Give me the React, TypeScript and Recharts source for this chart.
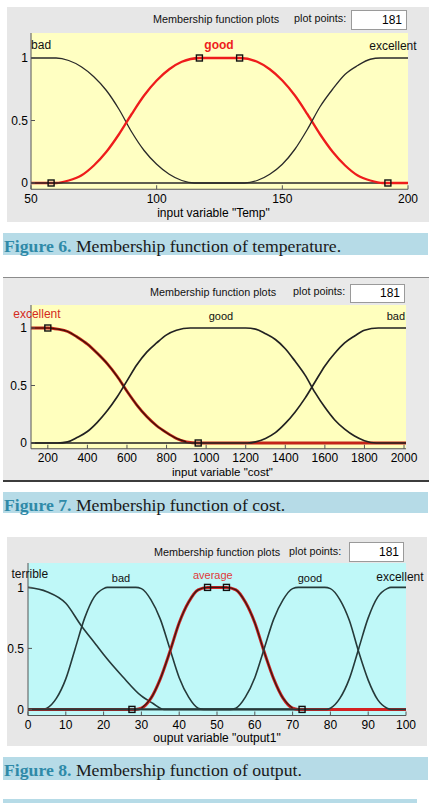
import React from 'react';
import { ComposedChart, Line, Scatter, XAxis, YAxis, CartesianGrid, ReferenceDot } from 'recharts';

// ---------- Figure 6: temperature ----------
const tempTicks = [50, 100, 150, 200];
const tempBadX = [50, 60, 65, 70, 75, 80, 85, 90, 95, 100, 105, 110, 115, 200];
const tempBadY = [1, 1, 0.98, 0.93, 0.85, 0.74, 0.59, 0.41, 0.26, 0.15, 0.07, 0.02, 0, 0];
const tempGoodX = [50, 60, 65, 70, 75, 80, 85, 90, 95, 100, 105, 110, 117, 133, 140, 145, 150, 155, 160, 165, 170, 175, 180, 185, 190, 200];
const tempGoodY = [0, 0, 0.02, 0.06, 0.14, 0.25, 0.39, 0.55, 0.7, 0.82, 0.91, 0.97, 1, 1, 0.97, 0.91, 0.82, 0.7, 0.55, 0.39, 0.25, 0.14, 0.06, 0.02, 0, 0];
const tempExcX = [50, 135, 140, 145, 150, 155, 160, 165, 170, 175, 180, 185, 189, 200];
const tempExcY = [0, 0, 0.02, 0.07, 0.15, 0.27, 0.43, 0.61, 0.75, 0.87, 0.94, 0.99, 1, 1];
const tempMarkX = [58, 117, 133, 192];
const tempMarkY = [0, 1, 1, 0];

// ---------- Figure 7: cost ----------
const costTicks = [200, 400, 600, 800, 1000, 1200, 1400, 1600, 1800, 2000];
const costExcX = [115, 200, 250, 300, 350, 400, 450, 500, 550, 600, 650, 700, 750, 800, 850, 900, 960, 2010];
const costExcY = [1, 1, 0.99, 0.97, 0.92, 0.86, 0.78, 0.69, 0.58, 0.45, 0.33, 0.23, 0.15, 0.09, 0.04, 0.01, 0, 0];
const costGoodX = [115, 250, 300, 350, 400, 450, 500, 550, 600, 650, 700, 750, 800, 850, 920, 1200, 1250, 1300, 1350, 1400, 1450, 1500, 1550, 1600, 1650, 1700, 1750, 1800, 1860, 2010];
const costGoodY = [0, 0, 0.01, 0.05, 0.1, 0.18, 0.28, 0.4, 0.54, 0.68, 0.79, 0.87, 0.94, 0.98, 1, 1, 0.99, 0.95, 0.9, 0.82, 0.71, 0.59, 0.44, 0.31, 0.2, 0.12, 0.06, 0.02, 0, 0];
const costBadX = [115, 1210, 1250, 1300, 1350, 1400, 1450, 1500, 1550, 1600, 1650, 1700, 1750, 1800, 1870, 2010];
const costBadY = [0, 0, 0.01, 0.04, 0.09, 0.17, 0.27, 0.39, 0.53, 0.67, 0.78, 0.87, 0.93, 0.98, 1, 1];
const costMarkX = [200, 960];
const costMarkY = [1, 0];

// ---------- Figure 8: output ----------
const outTicks = [0, 10, 20, 30, 40, 50, 60, 70, 80, 90, 100];
const outTerX = [0, 5, 10, 14, 18, 20, 25, 30, 33, 36, 100];
const outTerY = [1, 0.965, 0.87, 0.69, 0.53, 0.45, 0.27, 0.11, 0.05, 0, 0];
const outBadX = [0, 4, 5, 7.5, 10, 12.5, 15, 17.5, 20, 21, 28.5, 30, 32.5, 35, 37.5, 40, 42.5, 45, 46.5, 100];
const outBadY = [0, 0, 0.01, 0.09, 0.25, 0.5, 0.75, 0.92, 0.99, 1, 1, 0.99, 0.9, 0.74, 0.5, 0.26, 0.1, 0.01, 0, 0];
const outAvgX = [0, 28.5, 30, 32.5, 35, 37.5, 40, 42.5, 45, 47.5, 52.5, 55, 57.5, 60, 62.5, 65, 67.5, 70, 71.5, 100];
const outAvgY = [0, 0, 0.01, 0.09, 0.25, 0.47, 0.71, 0.88, 0.98, 1, 1, 0.98, 0.88, 0.71, 0.47, 0.25, 0.09, 0.01, 0, 0];
const outGoodX = [0, 53.5, 55, 57.5, 60, 62.5, 65, 67.5, 70, 71.5, 78.5, 80, 82.5, 85, 87.5, 90, 92.5, 95, 96, 100];
const outGoodY = [0, 0, 0.01, 0.1, 0.26, 0.5, 0.74, 0.9, 0.99, 1, 1, 0.99, 0.9, 0.73, 0.47, 0.24, 0.08, 0.01, 0, 0];
const outExcX = [0, 79, 80, 82.5, 85, 87.5, 90, 92.5, 95, 96, 100];
const outExcY = [0, 0, 0.01, 0.09, 0.25, 0.5, 0.75, 0.92, 0.99, 1, 1];
const outMarkX = [27.5, 47.5, 52.5, 72.5];
const outMarkY = [0, 1, 1, 0];

const yTicks = [0, 0.5, 1];
const yDomain: [number, number] = [-0.05, 1.2];

type Pt = { x: number; y: number };
const pts = (xs: number[], ys: number[]): Pt[] => xs.map((x, i) => ({ x, y: ys[i] }));

type Series = { data: Pt[]; color: string; width: number };
type Lbl = { text: string; x: number; y: number; color: string; size: number; bold?: boolean };

function Square(props: any) {
  const { cx, cy } = props;
  if (cx == null || cy == null) return null;
  return <rect x={cx - 3} y={cy - 3} width={6} height={6} fill="none" stroke="#111" strokeWidth={1.4} />;
}

type ChartProps = {
  top: number;
  width: number;
  height: number;
  margin: { top: number; right: number; bottom: number; left: number };
  yAxisWidth: number;
  xAxisHeight: number;
  xDomain: [number, number];
  xTicks: number[];
  bg: string;
  series: Series[];
  markers: Pt[];
  labels: Lbl[];
  axisLabel: string;
  axisLabelSize: number;
  xTickMargin: number;
  yTickMargin: number;
  labelOffset: number;
  labelDx: number;
};

function MfChart(p: ChartProps) {
  const tickStyle = { fill: '#000', fontSize: 12 };
  return (
    <div style={{ position: 'absolute', left: 0, top: p.top }}>
      <ComposedChart width={p.width} height={p.height} margin={p.margin}>
        <CartesianGrid horizontal={false} vertical={false} fill={p.bg} fillOpacity={1} stroke="none" />
        <XAxis
          type="number"
          dataKey="x"
          domain={p.xDomain}
          ticks={p.xTicks}
          allowDataOverflow
          interval={0}
          height={p.xAxisHeight}
          tickSize={-4}
          tickMargin={p.xTickMargin}
          tick={tickStyle}
          stroke="#555"
          label={{ value: p.axisLabel, position: 'insideBottom', offset: p.labelOffset, fill: '#000', fontSize: p.axisLabelSize, dx: p.labelDx }}
        />
        <XAxis
          xAxisId="top"
          orientation="top"
          type="number"
          dataKey="x"
          domain={p.xDomain}
          ticks={p.xTicks}
          allowDataOverflow
          interval={0}
          height={0}
          tickSize={-4}
          tick={false}
          stroke="#555"
        />
        <YAxis
          type="number"
          domain={yDomain}
          ticks={yTicks}
          allowDataOverflow
          interval={0}
          width={p.yAxisWidth}
          tickSize={-4}
          tickMargin={p.yTickMargin}
          tick={tickStyle}
          stroke="#555"
        />
        <YAxis
          yAxisId="right"
          orientation="right"
          type="number"
          domain={yDomain}
          ticks={yTicks}
          allowDataOverflow
          interval={0}
          width={0}
          tickSize={-4}
          tick={false}
          stroke="#555"
        />
        {p.series.map((s, i) => (
          <Line
            key={i}
            data={s.data}
            dataKey="y"
            type="monotone"
            stroke={s.color}
            strokeWidth={s.width}
            dot={false}
            activeDot={false}
            isAnimationActive={false}
          />
        ))}
        <Scatter data={p.markers} dataKey="y" shape={<Square />} isAnimationActive={false} />
        {p.labels.map((l) => (
          <ReferenceDot
            key={l.text}
            x={l.x}
            y={l.y}
            r={0}
            fill="none"
            stroke="none"
            label={{ value: l.text, position: 'center', fill: l.color, fontSize: l.size, fontWeight: l.bold ? 'bold' : 'normal' }}
          />
        ))}
      </ComposedChart>
    </div>
  );
}

function Header({ cy, titleX, ppX, boxX, boxW, boxTop, boxH }: { cy: number; titleX: number; ppX: number; boxX: number; boxW: number; boxTop: number; boxH: number }) {
  return (
    <>
      <div style={{ position: 'absolute', left: titleX, top: cy - 7, height: 14, lineHeight: '14px', fontSize: 10.8, color: '#111', whiteSpace: 'nowrap' }}>
        Membership function plots
      </div>
      <div style={{ position: 'absolute', left: ppX, top: cy - 8, height: 14, lineHeight: '14px', fontSize: 10.8, color: '#111', whiteSpace: 'nowrap' }}>
        plot points:
      </div>
      <div
        style={{
          position: 'absolute',
          left: boxX,
          top: boxTop,
          width: boxW,
          height: boxH,
          boxSizing: 'border-box',
          border: '1px solid #9a9a9a',
          background: '#fff',
          fontSize: 12,
          lineHeight: `${boxH - 2}px`,
          textAlign: 'right',
          paddingRight: 4,
          color: '#000',
        }}
      >
        181
      </div>
    </>
  );
}

function Caption({ top, num, text }: { top: number; num: string; text: string }) {
  return (
    <div
      style={{
        position: 'absolute',
        left: 4,
        top,
        height: 20,
        lineHeight: '20px',
        fontFamily: '"Liberation Serif", "Times New Roman", serif',
        fontSize: 17.7,
        whiteSpace: 'nowrap',
        color: '#1a1a1a',
      }}
    >
      <span style={{ color: '#2f8aa8', fontWeight: 'bold' }}>{num}</span> {text}
    </div>
  );
}

export default function App() {
  const blk = '#2a2a2a';
  const capBar = '#b6dbe7';
  return (
    <div
      style={{
        position: 'absolute',
        left: 0,
        top: 0,
        width: 429,
        height: 803,
        background: '#fff',
        overflow: 'hidden',
        fontFamily: '"Liberation Sans", Arial, sans-serif',
      }}
    >
      {/* Panel 1 */}
      <div style={{ position: 'absolute', left: 7, top: 7, width: 422, height: 215, background: '#e7e7e7' }} />
      <Header cy={19} titleX={153} ppX={294} boxX={351} boxW={56} boxTop={10} boxH={20} />
      <MfChart
        top={0}
        width={429}
        height={230}
        margin={{ top: 33, right: 21, bottom: 10.75, left: 0 }}
        yAxisWidth={31}
        xAxisHeight={30}
        xDomain={[50, 200]}
        xTicks={tempTicks}
        bg="#ffffc2"
        series={[
          { data: pts(tempBadX, tempBadY), color: blk, width: 1.3 },
          { data: pts(tempGoodX, tempGoodY), color: '#ee1c1c', width: 2.3 },
          { data: pts(tempExcX, tempExcY), color: blk, width: 1.3 },
        ]}
        markers={pts(tempMarkX, tempMarkY)}
        labels={[
          { text: 'bad', x: 54, y: 1.11, color: '#111', size: 12 },
          { text: 'good', x: 124.8, y: 1.11, color: '#ee1c1c', size: 12, bold: true },
          { text: 'excellent', x: 194, y: 1.1, color: '#111', size: 12 },
        ]}
        axisLabel={'input variable "Temp"'}
        axisLabelSize={12}
        xTickMargin={9.5}
        yTickMargin={7}
        labelOffset={2}
        labelDx={-6}
      />
      <div style={{ position: 'absolute', left: 3, top: 233, width: 425, height: 22, background: capBar }} />
      <Caption top={236} num="Figure 6." text="Membership function of temperature." />

      {/* Panel 2 */}
      <div
        style={{
          position: 'absolute',
          left: 3,
          top: 277,
          width: 426,
          height: 205,
          background: '#e9e9e9',
          borderTop: '1px solid #8c8c8c',
          borderBottom: '2px solid #3c3c3c',
          boxSizing: 'border-box',
        }}
      />
      <Header cy={292} titleX={150} ppX={293} boxX={350} boxW={55} boxTop={284} boxH={19} />
      <MfChart
        top={277}
        width={429}
        height={203}
        margin={{ top: 28, right: 23, bottom: 3.25, left: 0 }}
        yAxisWidth={31}
        xAxisHeight={28}
        xDomain={[115, 2010]}
        xTicks={costTicks}
        bg="#ffffbe"
        series={[
          { data: pts(costExcX, costExcY), color: '#c42418', width: 2.8 },
          { data: pts(costExcX, costExcY).filter((d) => d.y > 0), color: '#3a1208', width: 1.2 },
          { data: pts(costGoodX, costGoodY), color: '#222', width: 1.7 },
          { data: pts(costBadX, costBadY), color: '#222', width: 1.7 },
        ]}
        markers={pts(costMarkX, costMarkY)}
        labels={[
          { text: 'excellent', x: 145, y: 1.12, color: '#d42a20', size: 12 },
          { text: 'good', x: 1075, y: 1.1, color: '#111', size: 11 },
          { text: 'bad', x: 1959, y: 1.1, color: '#111', size: 11 },
        ]}
        axisLabel={'input variable "cost"'}
        axisLabelSize={11.5}
        xTickMargin={8.5}
        yTickMargin={8}
        labelOffset={0.5}
        labelDx={4}
      />
      <div style={{ position: 'absolute', left: 3, top: 492, width: 425, height: 21, background: capBar }} />
      <Caption top={495} num="Figure 7." text="Membership function of cost." />

      {/* Panel 3 */}
      <div style={{ position: 'absolute', left: 7, top: 537, width: 420, height: 209, background: '#e7e7e7' }} />
      <Header cy={552} titleX={154} ppX={289} boxX={349} boxW={55} boxTop={542} boxH={20} />
      <MfChart
        top={537}
        width={429}
        height={209}
        margin={{ top: 26, right: 23, bottom: 2.5, left: 0 }}
        yAxisWidth={28}
        xAxisHeight={28}
        xDomain={[0, 100]}
        xTicks={outTicks}
        bg="#bff8f8"
        series={[
          { data: pts(outTerX, outTerY), color: '#263a3a', width: 1.6 },
          { data: pts(outBadX, outBadY), color: '#263a3a', width: 1.6 },
          { data: pts(outAvgX, outAvgY), color: '#d42222', width: 3 },
          { data: pts(outAvgX, outAvgY).filter((d) => d.y > 0), color: '#3a1a14', width: 1.3 },
          { data: pts(outGoodX, outGoodY), color: '#263a3a', width: 1.6 },
          { data: pts(outExcX, outExcY), color: '#263a3a', width: 1.6 },
        ]}
        markers={pts(outMarkX, outMarkY)}
        labels={[
          { text: 'terrible', x: 0.5, y: 1.11, color: '#111', size: 12 },
          { text: 'bad', x: 24.6, y: 1.08, color: '#111', size: 11 },
          { text: 'average', x: 48.9, y: 1.1, color: '#e03a3a', size: 11 },
          { text: 'good', x: 74.6, y: 1.08, color: '#111', size: 11 },
          { text: 'excellent', x: 98.4, y: 1.09, color: '#111', size: 12 },
        ]}
        axisLabel={'ouput variable "output1"'}
        axisLabelSize={12}
        xTickMargin={9}
        yTickMargin={8}
        labelOffset={1.5}
        labelDx={0}
      />
      <div style={{ position: 'absolute', left: 3, top: 757, width: 425, height: 23, background: capBar }} />
      <Caption top={760} num="Figure 8." text="Membership function of output." />

      <div style={{ position: 'absolute', left: 3, top: 799, width: 414, height: 4, background: capBar }} />
    </div>
  );
}
